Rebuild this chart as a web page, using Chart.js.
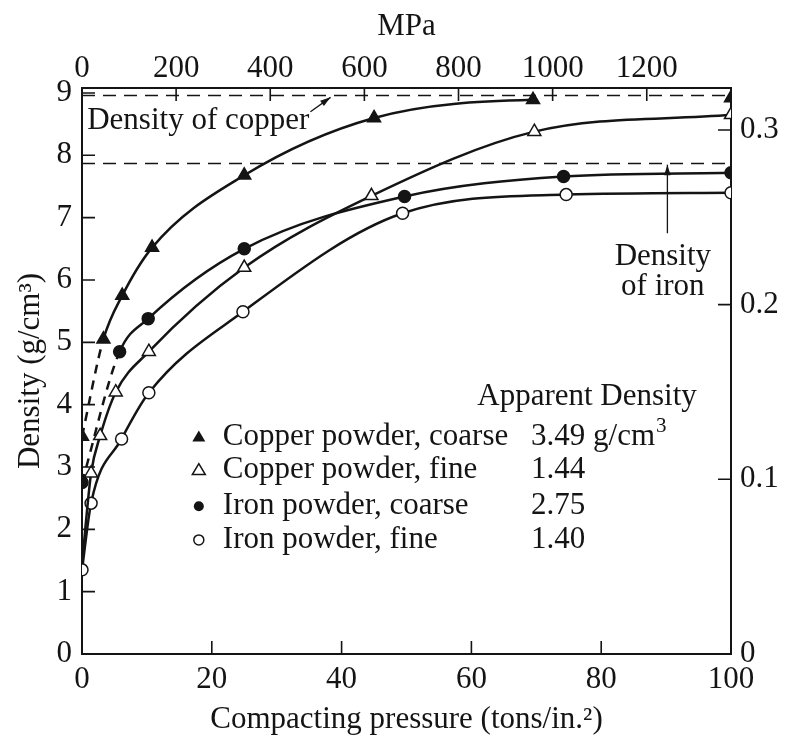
<!DOCTYPE html>
<html>
<head>
<meta charset="utf-8">
<script src="https://cdn.jsdelivr.net/npm/chart.js@4.4.1/dist/chart.umd.min.js"></script>
<style>
  html, body { margin: 0; padding: 0; background: #fff; }
</style>
</head>
<body>
<canvas id="densityChart" width="787" height="739"></canvas>
<script>
// compacting pressure (tons/in.2) and green density (g/cm3)
const cuCoarseX = [0, 3.3, 6.2, 10.8, 25, 45, 69.5, 100];
const cuCoarseY = [3.49, 5.05, 5.75, 6.52, 7.68, 8.6, 8.89, 8.92];

const cuFineX = [0, 1.4, 2.8, 5.2, 10.3, 25, 44.6, 69.7, 100];
const cuFineY = [1.44, 2.9, 3.5, 4.2, 4.85, 6.2, 7.35, 8.38, 8.65];

const feCoarseX = [0, 5.8, 10.2, 25, 49.7, 74.2, 100];
const feCoarseY = [2.75, 4.85, 5.38, 6.5, 7.34, 7.66, 7.72];

const feFineX = [0, 1.4, 6.1, 10.3, 24.8, 49.4, 74.6, 100];
const feFineY = [1.35, 2.42, 3.45, 4.19, 5.49, 7.07, 7.37, 7.4];

// full density of the metals
const refX = [0, 100];
const copperRef = [8.96, 8.96];
const ironRef = [7.87, 7.87];

const seriesNames = ['Copper powder, coarse', 'Copper powder, fine', 'Iron powder, coarse', 'Iron powder, fine'];
const apparentDensity = ['3.49', '1.44', '2.75', '1.40'];

// axis ranges and tick labels
const pressureMax = 100;      // tons/in.2
const mpaMax = 1379;          // same pressure in MPa
const densityMax = 9.08;      // g/cm3
const lbMax = 0.324;          // lb/in3
const mpaTicks = [0, 200, 400, 600, 800, 1000, 1200];
const lbTicks = [0, 0.1, 0.2, 0.3];

const SERIF = "'Liberation Serif', 'Times New Roman', serif";
const INK = '#141414';

function pts(xs, ys) {
  return xs.map((v, i) => ({x: v, y: ys[i]}));
}

Chart.defaults.font.family = SERIF;
Chart.defaults.font.size = 31;
Chart.defaults.color = INK;

const dashFirst = ctx => ctx.p0DataIndex === 0 ? [9, 7] : undefined;

// tick marks that point into the plot
const innerTicks = {
  id: 'innerTicks',
  afterDraw(chart) {
    const ctx = chart.ctx;
    const a = chart.chartArea;
    const len = 13;
    ctx.save();
    ctx.strokeStyle = INK;
    ctx.lineWidth = 1.6;
    ctx.beginPath();
    const sides = [['x', 'bottom'], ['x2', 'top'], ['y', 'left'], ['y2', 'right']];
    sides.forEach(([id, side]) => {
      const s = chart.scales[id];
      s.ticks.forEach(t => {
        if (t.value <= s.min || t.value >= s.max) return;
        const p = s.getPixelForValue(t.value);
        if (side === 'bottom') { ctx.moveTo(p, a.bottom); ctx.lineTo(p, a.bottom - len); }
        if (side === 'top') { ctx.moveTo(p, a.top); ctx.lineTo(p, a.top + len); }
        if (side === 'left') { ctx.moveTo(a.left, p); ctx.lineTo(a.left + len, p); }
        if (side === 'right') { ctx.moveTo(a.right, p); ctx.lineTo(a.right - len, p); }
      });
    });
    ctx.stroke();
    ctx.restore();
  }
};

function arrow(ctx, x0, y0, x1, y1) {
  const ang = Math.atan2(y1 - y0, x1 - x0);
  ctx.beginPath();
  ctx.moveTo(x0, y0);
  ctx.lineTo(x1, y1);
  ctx.stroke();
  ctx.beginPath();
  ctx.moveTo(x1, y1);
  ctx.lineTo(x1 - 11 * Math.cos(ang - 0.3), y1 - 11 * Math.sin(ang - 0.3));
  ctx.lineTo(x1 - 11 * Math.cos(ang + 0.3), y1 - 11 * Math.sin(ang + 0.3));
  ctx.closePath();
  ctx.fill();
}

// labels, arrows and the apparent density key
const notes = {
  id: 'notes',
  afterDraw(chart) {
    const {ctx, scales: {x, y}} = chart;
    const px = v => x.getPixelForValue(v);
    const py = v => y.getPixelForValue(v);
    ctx.save();
    ctx.fillStyle = INK;
    ctx.strokeStyle = INK;
    ctx.lineWidth = 1.3;
    ctx.font = '31px ' + SERIF;
    ctx.textBaseline = 'middle';
    ctx.textAlign = 'left';

    ctx.fillText('Density of copper', px(0.8), py(8.55));
    arrow(ctx, px(35.2), py(8.7), px(38.3), py(8.93));

    ctx.textAlign = 'center';
    ctx.fillText('Density', px(89.5), py(6.37));
    ctx.fillText('of iron', px(89.5), py(5.89));
    arrow(ctx, px(90.2), py(6.75), px(90.2), py(7.85));

    ctx.textAlign = 'left';
    ctx.fillText('Apparent Density', px(60.9), py(4.12));

    const rows = [3.48, 2.95, 2.37, 1.83];
    rows.forEach((ry, i) => {
      const cy = py(ry);
      const cx = px(18);
      ctx.lineWidth = 1.5;
      ctx.beginPath();
      if (i < 2) {
        ctx.moveTo(cx, cy - 6.5);
        ctx.lineTo(cx + 6.5, cy + 4.5);
        ctx.lineTo(cx - 6.5, cy + 4.5);
        ctx.closePath();
      } else {
        ctx.arc(cx, cy, 5, 0, Math.PI * 2);
      }
      if (i % 2 === 0) { ctx.fill(); } else { ctx.fillStyle = '#fff'; ctx.fill(); ctx.fillStyle = INK; ctx.stroke(); }
      ctx.fillText(seriesNames[i], px(21.7), cy);
      ctx.fillText(apparentDensity[i], px(69.2), cy);
    });
    // unit with raised 3
    const unitX = px(69.2) + ctx.measureText(apparentDensity[0] + ' ').width;
    ctx.fillText('g/cm', unitX, py(rows[0]));
    const w = ctx.measureText('g/cm').width;
    ctx.font = '21px ' + SERIF;
    ctx.fillText('3', unitX + w + 1, py(rows[0]) - 11);
    ctx.restore();
  }
};

const lineStyle = {
  borderColor: INK,
  borderWidth: 2.5,
  pointBorderColor: INK,
  pointBorderWidth: 1.5,
  cubicInterpolationMode: 'monotone',
  xAxisID: 'x',
  yAxisID: 'y'
};

const fixedTicks = list => s => { s.ticks = list.map(v => ({value: v})); };
const plainLabel = v => String(v);

const chart = new Chart(document.getElementById('densityChart'), {
  type: 'line',
  data: {
    datasets: [
      Object.assign({}, lineStyle, {
        label: 'Density of copper',
        data: pts(refX, copperRef),
        borderWidth: 1.6,
        borderDash: [13, 8],
        pointRadius: 0,
        cubicInterpolationMode: 'default'
      }),
      Object.assign({}, lineStyle, {
        label: 'Density of iron',
        data: pts(refX, ironRef),
        borderWidth: 1.6,
        borderDash: [13, 8],
        pointRadius: 0,
        cubicInterpolationMode: 'default'
      }),
      Object.assign({}, lineStyle, {
        label: seriesNames[0],
        data: pts(cuCoarseX, cuCoarseY),
        pointStyle: 'triangle',
        pointRadius: 7.5,
        pointBackgroundColor: INK,
        segment: {
          borderDash: dashFirst,
          borderColor: ctx => ctx.p1DataIndex === cuCoarseX.length - 1 ? 'rgba(0,0,0,0)' : undefined
        }
      }),
      Object.assign({}, lineStyle, {
        label: seriesNames[1],
        data: pts(cuFineX, cuFineY),
        pointStyle: 'triangle',
        pointRadius: cuFineX.map((v, i) => i === 0 ? 0 : 7.5),
        pointBackgroundColor: '#fff'
      }),
      Object.assign({}, lineStyle, {
        label: seriesNames[2],
        data: pts(feCoarseX, feCoarseY),
        pointStyle: 'circle',
        pointRadius: 6,
        pointBackgroundColor: INK,
        segment: { borderDash: dashFirst }
      }),
      Object.assign({}, lineStyle, {
        label: seriesNames[3],
        data: pts(feFineX, feFineY),
        pointStyle: 'circle',
        pointRadius: 6,
        pointBackgroundColor: '#fff'
      })
    ]
  },
  options: {
    responsive: false,
    animation: false,
    layout: { padding: 0 },
    plugins: {
      legend: { display: false },
      tooltip: { enabled: false }
    },
    scales: {
      x: {
        type: 'linear',
        position: 'bottom',
        min: 0,
        max: pressureMax,
        grid: { display: false, drawTicks: false, tickLength: 0 },
        border: { color: INK, width: 2 },
        ticks: { stepSize: 20, padding: 7, maxRotation: 0, autoSkip: false, includeBounds: false },
        title: { display: true, text: 'Compacting pressure (tons/in.²)', padding: { top: 0, bottom: 1 } },
        afterFit: s => { s.height = 85; }
      },
      x2: {
        type: 'linear',
        position: 'top',
        min: 0,
        max: mpaMax,
        grid: { display: false, drawTicks: false, tickLength: 0 },
        border: { color: INK, width: 2 },
        ticks: { padding: 1, maxRotation: 0, autoSkip: false, callback: plainLabel },
        afterBuildTicks: fixedTicks(mpaTicks),
        title: { display: true, text: 'MPa', padding: { top: 8, bottom: 0 } },
        afterFit: s => { s.height = 88; }
      },
      y: {
        type: 'linear',
        position: 'left',
        min: 0,
        max: densityMax,
        grid: { display: false, drawTicks: false, tickLength: 0 },
        border: { color: INK, width: 2 },
        ticks: { stepSize: 1, padding: 10, autoSkip: false, includeBounds: false },
        title: { display: true, text: 'Density (g/cm³)', padding: { top: 12, bottom: 0 } },
        afterFit: s => { s.width = 82; }
      },
      y2: {
        type: 'linear',
        position: 'right',
        min: 0,
        max: lbMax,
        grid: { display: false, drawTicks: false, tickLength: 0 },
        border: { color: INK, width: 2 },
        ticks: { padding: 9, autoSkip: false, callback: plainLabel },
        afterBuildTicks: fixedTicks(lbTicks),
        afterFit: s => { s.width = 56; }
      }
    }
  },
  plugins: [innerTicks, notes]
});
</script>
</body>
</html>
